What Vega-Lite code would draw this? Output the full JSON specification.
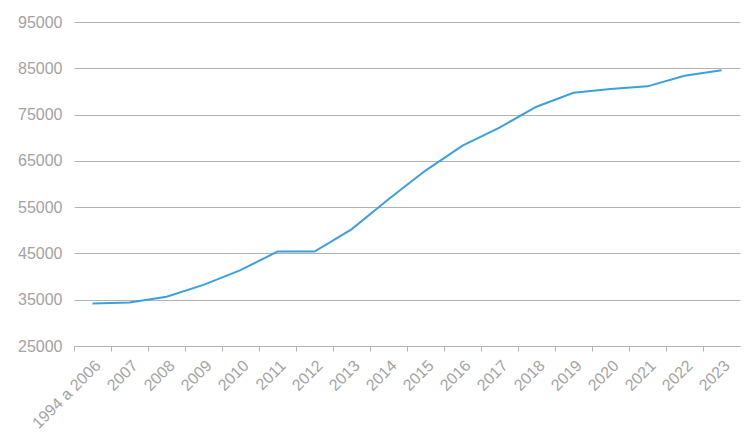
{
  "$schema": "https://vega.github.io/schema/vega-lite/v6.json",
  "width": 666,
  "height": 324,
  "autosize": {"type": "none"},
  "padding": {"left": 74, "top": 22, "right": 14, "bottom": 95},
  "background": "white",
  "config": {"view": {"stroke": null}, "font": "Liberation Sans"},
  "data": {
    "values": [
      {"periodo": "1994 a 2006", "valor": 34200},
      {"periodo": "2007", "valor": 34400},
      {"periodo": "2008", "valor": 35650},
      {"periodo": "2009", "valor": 38200},
      {"periodo": "2010", "valor": 41400},
      {"periodo": "2011", "valor": 45400},
      {"periodo": "2012", "valor": 45400},
      {"periodo": "2013", "valor": 50200},
      {"periodo": "2014", "valor": 56700},
      {"periodo": "2015", "valor": 62900},
      {"periodo": "2016", "valor": 68300},
      {"periodo": "2017", "valor": 72200},
      {"periodo": "2018", "valor": 76700},
      {"periodo": "2019", "valor": 79700},
      {"periodo": "2020", "valor": 80500},
      {"periodo": "2021", "valor": 81100},
      {"periodo": "2022", "valor": 83400},
      {"periodo": "2023", "valor": 84600}
    ]
  },
  "mark": {"type": "line", "color": "#3d9fdb", "strokeWidth": 2},
  "encoding": {
    "x": {
      "field": "periodo",
      "type": "ordinal",
      "sort": null,
      "bandPosition": 0.5,
      "scale": {"type": "band", "paddingInner": 0, "paddingOuter": 0},
      "axis": {
        "title": null,
        "labelAngle": -45,
        "labelFontSize": 16,
        "labelColor": "#a3a3a3",
        "labelPadding": 6,
        "domainColor": "#b3b3b3",
        "tickColor": "#b3b3b3",
        "tickSize": 5,
        "bandPosition": 0,
        "grid": false
      }
    },
    "y": {
      "field": "valor",
      "type": "quantitative",
      "scale": {"domain": [25000, 95000], "nice": false, "zero": false},
      "axis": {
        "title": null,
        "values": [25000, 35000, 45000, 55000, 65000, 75000, 85000, 95000],
        "format": "d",
        "labelFontSize": 16,
        "labelColor": "#a3a3a3",
        "labelPadding": 12,
        "ticks": false,
        "domain": false,
        "gridColor": "#b3b3b3",
        "gridWidth": 1
      }
    }
  }
}
